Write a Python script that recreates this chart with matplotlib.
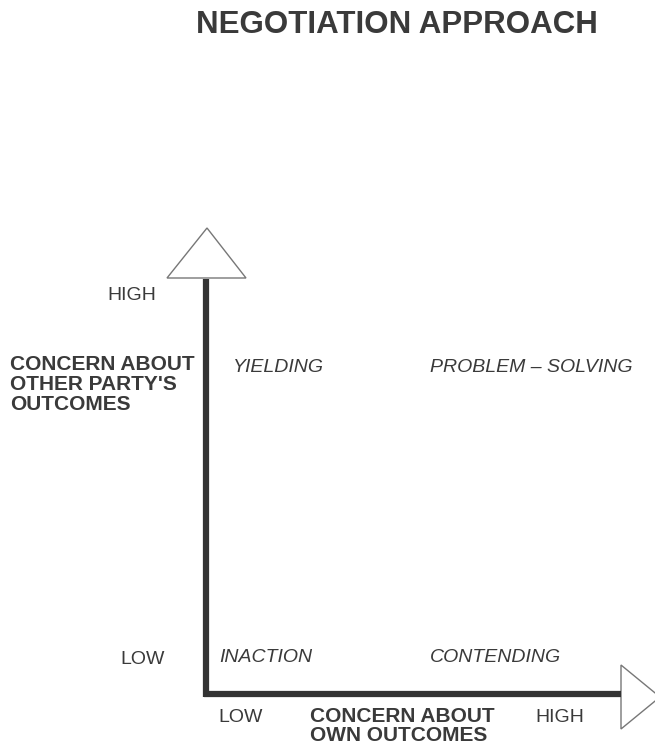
import matplotlib
matplotlib.use("Agg")
import matplotlib.pyplot as plt
from matplotlib.patches import Polygon

plt.rcParams['font.family'] = ['Liberation Sans', 'DejaVu Sans']

title = "NEGOTIATION APPROACH"
y_label_lines = ["CONCERN ABOUT", "OTHER PARTY'S", "OUTCOMES"]
x_label_lines = ["CONCERN ABOUT", "OWN OUTCOMES"]
level_labels = ["LOW", "HIGH"]
quadrants = ["INACTION", "CONTENDING", "YIELDING", "PROBLEM \u2013 SOLVING"]

W, H = 655, 746
fig = plt.figure(figsize=(W / 100, H / 100), dpi=100)
ax = fig.add_axes([0, 0, 1, 1])
ax.set_xlim(0, W)
ax.set_ylim(H, 0)
ax.axis('off')

tc = '#3a3a3a'
ox, oy = 206, 694
# axes lines
ax.plot([ox, ox], [279, oy + 3], color='#333333', lw=4.5, solid_capstyle='butt')
ax.plot([ox - 2, 621], [oy, oy], color='#333333', lw=4.5, solid_capstyle='butt')
# arrow heads
ax.add_patch(Polygon([(167, 278), (246, 278), (207, 228)], closed=True,
                     facecolor='white', edgecolor='#777777', lw=1.0))
ax.add_patch(Polygon([(621, 665), (621, 729), (660, 697)], closed=True,
                     facecolor='white', edgecolor='#777777', lw=1.0, clip_on=True))

ax.text(397, 25, title, ha='center', va='center', fontsize=22.5,
        fontweight='bold', color=tc)

# y-axis labels
ax.text(107, 295, level_labels[1], ha='left', va='center', fontsize=14, color=tc)
ax.text(120, 659, level_labels[0], ha='left', va='center', fontsize=14, color=tc)
for i, line in enumerate(y_label_lines):
    ax.text(10, 365 + i * 19.5, line, ha='left', va='center', fontsize=15,
            fontweight='bold', color=tc)

# x-axis labels
ax.text(218, 718, level_labels[0], ha='left', va='center', fontsize=14, color=tc)
ax.text(535, 718, level_labels[1], ha='left', va='center', fontsize=14, color=tc)
for i, line in enumerate(x_label_lines):
    ax.text(310, 717 + i * 18.5, line, ha='left', va='center', fontsize=15,
            fontweight='bold', color=tc)

# quadrant labels
ax.text(219, 657, quadrants[0], ha='left', va='center', fontsize=14,
        style='italic', color=tc)
ax.text(430, 657, quadrants[1], ha='left', va='center', fontsize=14,
        style='italic', color=tc)
ax.text(233, 368, quadrants[2], ha='left', va='center', fontsize=14,
        style='italic', color=tc)
ax.text(430, 368, quadrants[3], ha='left', va='center', fontsize=14,
        style='italic', color=tc)

fig.savefig('out.png', dpi=100)
